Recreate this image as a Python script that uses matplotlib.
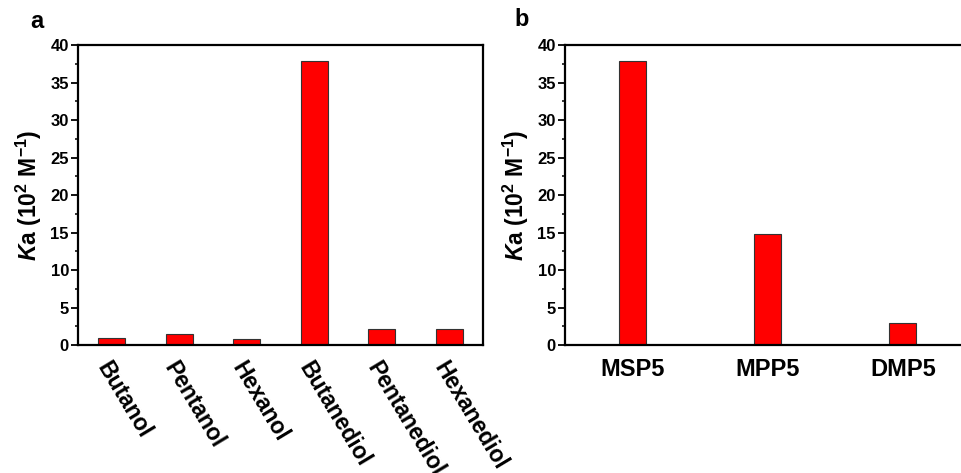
import matplotlib
matplotlib.use("Agg")
import matplotlib.pyplot as plt
import numpy as np

plt.rcParams['font.family'] = ['Liberation Sans', 'DejaVu Sans']
plt.rcParams['font.weight'] = 'bold'
plt.rcParams['mathtext.fontset'] = 'custom'
plt.rcParams['mathtext.rm'] = 'Liberation Sans:bold'
plt.rcParams['mathtext.it'] = 'Liberation Sans:bold:italic'
plt.rcParams['mathtext.bf'] = 'Liberation Sans:bold'

cats_a = ["Butanol", "Pentanol", "Hexanol", "Butanediol", "Pentanediol", "Hexanediol"]
vals_a = [1.0, 1.5, 0.8, 37.9, 2.1, 2.1]
cats_b = ["MSP5", "MPP5", "DMP5"]
vals_b = [37.9, 14.8, 2.9]
yticks = [0, 5, 10, 15, 20, 25, 30, 35, 40]

fig = plt.figure(figsize=(9.61, 4.73), dpi=100)
H = 473.0
W = 961.0
ax_a = fig.add_axes([78 / W, (H - 345) / H, 405 / W, 300 / H])
ax_b = fig.add_axes([565 / W, (H - 345) / H, 405.5 / W, 300 / H])

ylabel = r'$\mathit{K}$a (10$^{2}$ M$^{-1}$)'

def style(ax):
    for s in ax.spines.values():
        s.set_linewidth(1.6)
    ax.set_ylim(0, 40)
    ax.set_yticks(yticks)
    ax.set_yticks(np.arange(0, 40.1, 2.5), minor=True)
    ax.tick_params(axis='y', which='major', direction='out', length=5, width=1.3,
                   labelsize=12, pad=1.5)
    ax.tick_params(axis='y', which='minor', direction='out', length=2.5, width=1.1)
    ax.tick_params(axis='x', which='both', length=0)
    ax.set_ylabel(ylabel, fontsize=16.5, fontweight='bold', labelpad=5)
    for t in ax.get_yticklabels():
        t.set_fontweight('bold')

# Panel a
xa = np.arange(len(cats_a))
ax_a.bar(xa, vals_a, width=0.4, color='#ff0000', edgecolor='#333333', linewidth=0.8, zorder=2)
ax_a.set_xlim(-0.5, 5.5)
style(ax_a)
ax_a.set_xticks(xa)
ax_a.set_xticklabels(cats_a, rotation=-59, ha='left', va='top', rotation_mode='anchor',
                     fontsize=16.5, fontweight='bold')
ax_a.tick_params(axis='x', pad=9)

# Panel b
xb = np.arange(len(cats_b))
ax_b.bar(xb, vals_b, width=0.2, color='#ff0000', edgecolor='#333333', linewidth=0.8, zorder=2)
ax_b.set_xlim(-0.5, 2.5)
style(ax_b)
ax_b.set_xticks(xb)
ax_b.set_xticklabels(cats_b, fontsize=17, fontweight='bold')
ax_b.tick_params(axis='x', pad=9)

fig.text(30 / W, 1 - 22 / H, 'a', fontsize=17, fontweight='bold', va='center', ha='left')
fig.text(514 / W, 1 - 20 / H, 'b', fontsize=17, fontweight='bold', va='center', ha='left')

fig.savefig('out.png', dpi=100)
